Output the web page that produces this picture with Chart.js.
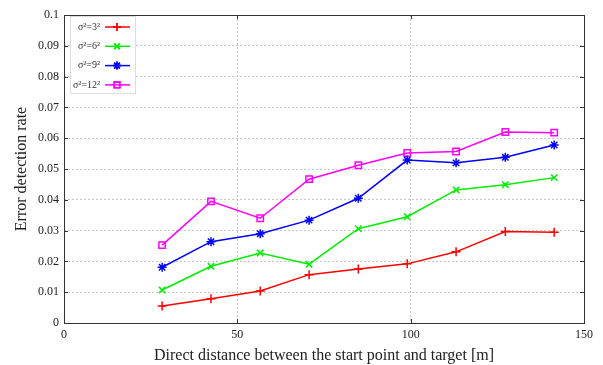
<!DOCTYPE html>
<html>
<head>
<meta charset="utf-8">
<script src="https://cdn.jsdelivr.net/npm/chart.js@4/dist/chart.umd.min.js"></script>
<style>
  html, body { margin: 0; padding: 0; background: #fff; }
  #wrap { width: 603px; height: 365px; }
</style>
</head>
<body>
<div id="wrap"><canvas id="chart" width="603" height="365"></canvas></div>
<script>
// distances [m]
var distances = [28.3, 42.4, 56.6, 70.7, 84.9, 99.0, 113.1, 127.3, 141.4];
// error detection rate per sigma
var sigma3 = [0.0055, 0.0079, 0.0104, 0.0157, 0.0175, 0.0192, 0.0231, 0.0297, 0.0295];
var sigma6 = [0.0107, 0.0184, 0.0227, 0.0191, 0.0306, 0.0345, 0.0432, 0.0449, 0.0472];
var sigma9 = [0.0181, 0.0264, 0.0290, 0.0334, 0.0405, 0.0529, 0.0520, 0.0538, 0.0578];
var sigma12 = [0.0253, 0.0395, 0.0340, 0.0467, 0.0512, 0.0552, 0.0557, 0.0620, 0.0618];
var seriesLabels = ['σ²=3²', 'σ²=6²', 'σ²=9²', 'σ²=12²'];
var xTicks = [0, 50, 100, 150];
var yTicks = [0, 0.01, 0.02, 0.03, 0.04, 0.05, 0.06, 0.07, 0.08, 0.09, 0.1];

var serif = "'Liberation Serif', 'Times New Roman', serif";

function toPoints(ys) {
  return ys.map(function(v, i) { return { x: distances[i], y: v }; });
}

var styles = [
  { color: '#ff0000', point: 'cross', radius: 4.5 },
  { color: '#00ee00', point: 'crossRot', radius: 4.5 },
  { color: '#0000ff', point: 'star', radius: 4.5 },
  { color: '#ff00ff', point: 'rect', radius: 4.5 }
];

var allSeries = [sigma3, sigma6, sigma9, sigma12];
var datasets = allSeries.map(function(ys, i) {
  var s = styles[i];
  return {
    label: seriesLabels[i],
    data: toPoints(ys),
    borderColor: s.color,
    backgroundColor: 'rgba(0,0,0,0)',
    borderWidth: 1.5,
    pointStyle: s.point,
    pointRadius: s.radius,
    pointBorderWidth: 1.5,
    pointBorderColor: s.color,
    pointBackgroundColor: 'rgba(0,0,0,0)',
    tension: 0
  };
});

// frame, inner ticks and the legend box
var framePlugin = {
  id: 'frame',
  afterDraw: function(chart) {
    var ctx = chart.ctx;
    var a = chart.chartArea;
    var xs = chart.scales.x, ys = chart.scales.y;
    ctx.save();
    ctx.strokeStyle = '#333';
    ctx.lineWidth = 1;
    ctx.strokeRect(a.left + 0.5, a.top + 0.5, a.right - a.left, a.bottom - a.top);
    // small inward ticks
    ctx.beginPath();
    yTicks.forEach(function(v) {
      var py = Math.round(ys.getPixelForValue(v)) + 0.5;
      ctx.moveTo(a.left, py); ctx.lineTo(a.left + 4, py);
      ctx.moveTo(a.right, py); ctx.lineTo(a.right - 4, py);
    });
    xTicks.forEach(function(v) {
      var px = Math.round(xs.getPixelForValue(v)) + 0.5;
      ctx.moveTo(px, a.bottom); ctx.lineTo(px, a.bottom - 4);
      ctx.moveTo(px, a.top); ctx.lineTo(px, a.top + 4);
    });
    ctx.stroke();

    // legend
    var lx = a.left + 6, ly = a.top + 1, lw = 65, lh = 77;
    ctx.fillStyle = '#fff';
    ctx.fillRect(lx, ly, lw, lh);
    ctx.setLineDash([1, 1]);
    ctx.strokeStyle = '#bbb';
    ctx.strokeRect(lx + 0.5, ly + 0.5, lw, lh);
    ctx.setLineDash([]);
    ctx.font = '10px ' + serif;
    ctx.textAlign = 'right';
    ctx.textBaseline = 'middle';
    datasets.forEach(function(ds, i) {
      var ey = ly + 11 + i * 19.3;
      ctx.fillStyle = '#333';
      ctx.fillText(ds.label, lx + 30, ey);
      ctx.strokeStyle = ds.borderColor;
      ctx.lineWidth = 1.5;
      ctx.beginPath();
      ctx.moveTo(lx + 35, ey); ctx.lineTo(lx + 60, ey);
      ctx.stroke();
      ctx.fillStyle = 'rgba(0,0,0,0)';
      Chart.helpers.drawPoint(ctx, {
        pointStyle: ds.pointStyle,
        radius: 4,
        rotation: 0,
        borderWidth: 1.5
      }, lx + 47, ey);
      ctx.stroke();
    });
    ctx.restore();
  }
};

new Chart(document.getElementById('chart'), {
  type: 'line',
  data: { datasets: datasets },
  options: {
    responsive: false,
    animation: false,
    layout: { padding: { top: 15, right: 19, left: 0, bottom: 0 } },
    plugins: {
      legend: { display: false },
      tooltip: { enabled: false }
    },
    scales: {
      x: {
        type: 'linear',
        min: 0,
        max: 150,
        afterBuildTicks: function(scale) {
          scale.ticks = xTicks.map(function(v) { return { value: v }; });
        },
        afterFit: function(scale) { scale.height = 42; },
        grid: {
          color: '#c8c8c8',
          lineWidth: 1,
          drawTicks: false
        },
        border: { display: false, dash: [2, 2] },
        ticks: {
          color: '#222',
          padding: 5,
          maxRotation: 0,
          font: { family: serif, size: 12 }
        },
        title: {
          display: true,
          text: 'Direct distance between the start point and target [m]',
          color: '#222',
          padding: { top: 0, bottom: 0 },
          font: { family: serif, size: 16 }
        }
      },
      y: {
        type: 'linear',
        min: 0,
        max: 0.1,
        afterBuildTicks: function(scale) {
          scale.ticks = yTicks.map(function(v) { return { value: v }; });
        },
        afterFit: function(scale) { scale.width = 64; },
        grid: {
          color: '#c8c8c8',
          lineWidth: 1,
          drawTicks: false
        },
        border: { display: false, dash: [2, 2] },
        ticks: {
          color: '#222',
          padding: 5,
          font: { family: serif, size: 12 },
          callback: function(v) { return String(Math.round(v * 100) / 100); }
        },
        title: {
          display: true,
          text: 'Error detection rate',
          color: '#222',
          padding: { top: 12, bottom: 0 },
          font: { family: serif, size: 16 }
        }
      }
    }
  },
  plugins: [framePlugin]
});
</script>
</body>
</html>
